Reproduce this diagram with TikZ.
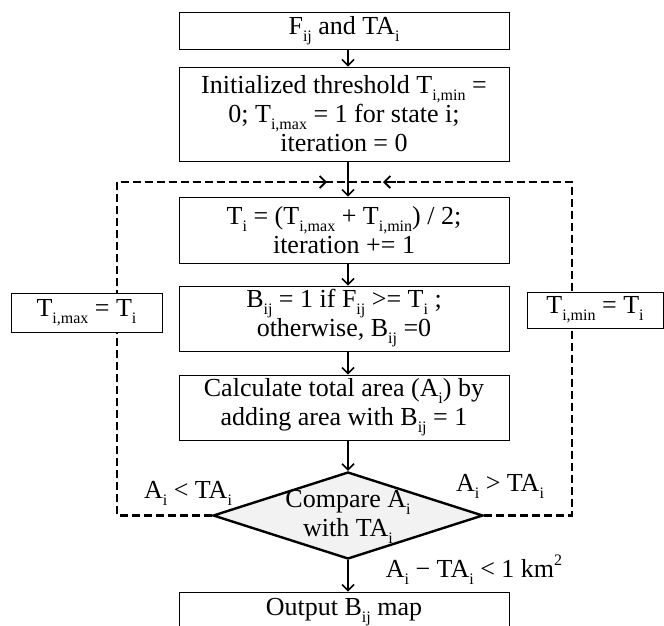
\documentclass[tikz,border=0pt]{standalone}
\usepackage{fontspec}
\setmainfont{Liberation Serif}
\usetikzlibrary{arrows.meta,shapes.geometric}
\newcommand{\sbs}[1]{\raisebox{-0.27em}{\fontsize{16}{16}\selectfont #1}}
\newcommand{\sps}[1]{\raisebox{0.45em}{\fontsize{16}{16}\selectfont #1}}
\begin{document}
\begin{tikzpicture}[x=1pt,y=-1pt,
  txt/.style={font=\fontsize{26}{29}\selectfont},
  box/.style={txt, draw, line width=0.9pt, fill=white, minimum width=330pt, inner sep=0pt, align=center},
  sidebox/.style={txt, draw, line width=0.9pt, fill=white, inner sep=0pt, align=center},
  arr/.style={line width=1.5pt, -{Straight Barb[length=6pt,width=12pt,line width=1.5pt]}},
  loopline/.style={line width=2.6pt, dash pattern=on 8pt off 4pt},
  looptip/.style={line width=1.8pt, -{Straight Barb[length=6pt,width=12pt,line width=1.8pt]}},
  dia/.style={draw, line width=2.4pt, fill=gray!10, diamond, minimum width=270pt, minimum height=87pt, inner sep=0pt}
]
\useasboundingbox (0,0) rectangle (664,625);

% loop coordinates
\coordinate (tl) at (117,182);
\coordinate (tr) at (572,182);
\coordinate (top) at (349,182);

% main nodes
\node[box, minimum height=37pt] (b1) at (344,30.5) {F\sbs{ij} and TA\sbs{i}};
\node[box, minimum height=94pt] (b2) at (344,114) {Initialized threshold T\sbs{i,min} =\\ 0; T\sbs{i,max} = 1 for state i;\\ iteration = 0};
\node[box, minimum height=66pt] (b3) at (344,230) {T\sbs{i} = (T\sbs{i,max} + T\sbs{i,min}) / 2;\\ iteration += 1};
\node[box, minimum height=65pt] (b4) at (344,318.5) {B\sbs{ij} = 1 if F\sbs{ij} >= T\sbs{i} ;\\ otherwise, B\sbs{ij} =0};
\node[box, minimum height=65pt] (b5) at (344,407.5) {Calculate total area (A\sbs{i}) by\\ adding area with B\sbs{ij} = 1};
\node[dia] (d) at (348,515.5) {};
\node[txt, align=center] (dt) at (348,517) {Compare A\sbs{i}\\ with TA\sbs{i}};
\node[box, minimum height=40pt] (b6) at (344,612) {Output B\sbs{ij} map};

% loop lines
\draw[loopline] (d.west) -| (tl) -- (top);
\draw[loopline] (d.east) -| (tr) -- (top);
\coordinate (la) at (314,182);
\coordinate (lb) at (327,182);
\coordinate (ra) at (396,182);
\coordinate (rb) at (383,182);
\draw[looptip] (la) -- (lb);
\draw[looptip] (ra) -- (rb);

% side boxes
\node[sidebox, minimum width=151pt, minimum height=39pt] (smax) at (86.5,312.5) {T\sbs{i,max} = T\sbs{i}};
\node[sidebox, minimum width=136pt, minimum height=36pt] (smin) at (595,310) {T\sbs{i,min} = T\sbs{i}};

% arrows
\draw[arr] ([xshift=4pt]b1.south) -- ([xshift=4pt]b2.north);
\draw[arr] ([xshift=4pt]b2.south) -- ([xshift=4pt]b3.north);
\draw[arr] ([xshift=4pt]b3.south) -- ([xshift=4pt]b4.north);
\draw[arr] ([xshift=4pt]b4.south) -- ([xshift=4pt]b5.north);
\draw[arr] ([xshift=4pt]b5.south) -- (d.north);
\draw[arr] (d.south) -- ([xshift=4pt]b6.north);

% labels
\node[txt, anchor=base] (ll) at (188,498) {A\sbs{i} < TA\sbs{i}};
\node[txt, anchor=base] (lr) at (500,491) {A\sbs{i} > TA\sbs{i}};
\node[txt, anchor=base] (lbm) at (474,577) {A\sbs{i} − TA\sbs{i} < 1 km\sps{2}};
\end{tikzpicture}
\end{document}
